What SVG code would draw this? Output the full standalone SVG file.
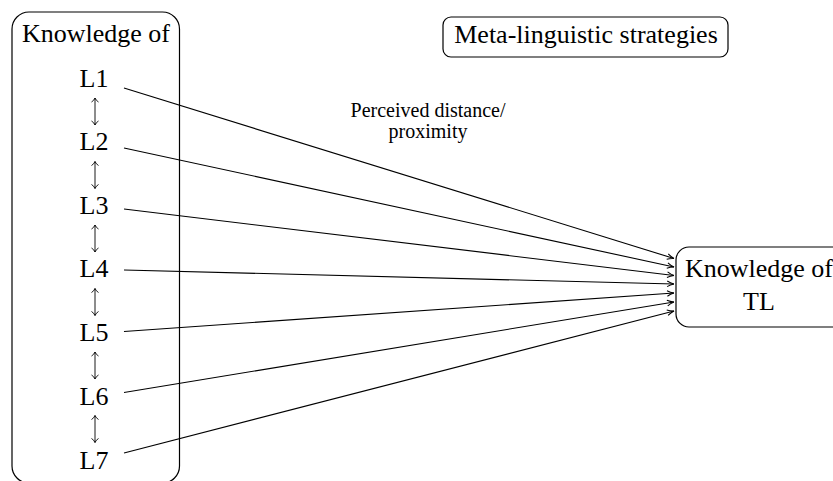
<svg xmlns="http://www.w3.org/2000/svg" width="833" height="481" viewBox="0 0 833 481">
<style>
text{font-family:"Liberation Serif","DejaVu Serif","Noto Serif","Times New Roman",serif;fill:#000}
.t{font-size:26px}
.s{font-size:20px}
.box{fill:#fff;stroke:#000;stroke-width:1.2}
.c{stroke:#000;stroke-width:1.1;fill:none}
.ud{stroke:#000;stroke-width:0.9;fill:none}
</style>
<defs>
<marker id="ah" viewBox="0 0 10 10" refX="9.5" refY="5" markerWidth="8" markerHeight="8" markerUnits="userSpaceOnUse" orient="auto">
<path d="M1,1.5 Q5,4 9.5,5 Q5,6 1,8.5" fill="none" stroke="#000" stroke-width="1.3"/>
</marker>
<g id="udarrow">
<path class="ud" d="M0,0 V27 M-3.5,4 Q-1,2.5 0,0 Q1,2.5 3.5,4 M-3.5,23 Q-1,24.5 0,27 Q1,24.5 3.5,23"/>
</g>
</defs>
<rect width="833" height="481" fill="#fff"/>
<g id="sources">
<rect class="box" x="12" y="12" width="167.5" height="471" rx="17"/>
<text class="t" x="96" y="42" text-anchor="middle" font-family="Liberation Serif, serif">Knowledge of</text>
<text class="t" x="94" y="87" text-anchor="middle" font-family="Liberation Serif, serif">L1</text>
<text class="t" x="94" y="150" text-anchor="middle" font-family="Liberation Serif, serif">L2</text>
<text class="t" x="94" y="214" text-anchor="middle" font-family="Liberation Serif, serif">L3</text>
<text class="t" x="94" y="277" text-anchor="middle" font-family="Liberation Serif, serif">L4</text>
<text class="t" x="94" y="341" text-anchor="middle" font-family="Liberation Serif, serif">L5</text>
<text class="t" x="94" y="405" text-anchor="middle" font-family="Liberation Serif, serif">L6</text>
<text class="t" x="94" y="469" text-anchor="middle" font-family="Liberation Serif, serif">L7</text>
<use href="#udarrow" x="95" y="98"/>
<use href="#udarrow" x="95" y="161.5"/>
<use href="#udarrow" x="95" y="225"/>
<use href="#udarrow" x="95" y="288.5"/>
<use href="#udarrow" x="95" y="352"/>
<use href="#udarrow" x="95" y="415.5"/>
</g>
<g id="meta">
<rect class="box" x="443" y="17" width="285" height="40" rx="8"/>
<text class="t" x="586" y="43" text-anchor="middle" font-family="Liberation Serif, serif">Meta-linguistic strategies</text>
</g>
<g id="target">
<rect class="box" x="676" y="247" width="170" height="80" rx="13"/>
<text class="t" x="759" y="277" text-anchor="middle" font-family="Liberation Serif, serif">Knowledge of</text>
<text class="t" x="759" y="310" text-anchor="middle" font-family="Liberation Serif, serif">TL</text>
</g>
<g id="connectors">
<line class="c" x1="124" y1="88" x2="674" y2="258.5" marker-end="url(#ah)"/>
<line class="c" x1="124" y1="148" x2="674" y2="267" marker-end="url(#ah)"/>
<line class="c" x1="124" y1="209" x2="674" y2="275.5" marker-end="url(#ah)"/>
<line class="c" x1="124" y1="270" x2="674" y2="284" marker-end="url(#ah)"/>
<line class="c" x1="124" y1="331.5" x2="674" y2="293" marker-end="url(#ah)"/>
<line class="c" x1="124" y1="392.5" x2="674" y2="302" marker-end="url(#ah)"/>
<line class="c" x1="124" y1="453" x2="674" y2="311" marker-end="url(#ah)"/>
</g>
<g id="label">
<text class="s" x="428" y="117" text-anchor="middle" font-family="Liberation Serif, serif">Perceived distance/</text>
<text class="s" x="428" y="138" text-anchor="middle" font-family="Liberation Serif, serif">proximity</text>
</g>
</svg>
